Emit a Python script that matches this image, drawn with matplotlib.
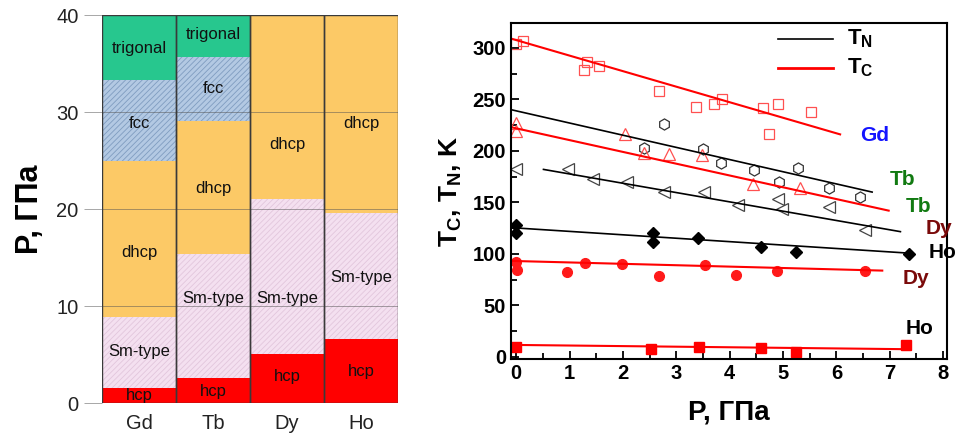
import numpy as np
import matplotlib.pyplot as plt

plt.rcParams['font.family'] = ['Liberation Sans', 'DejaVu Sans']
plt.rcParams['hatch.linewidth'] = 0.6

# ---- phase diagram (left) ----
elements = ["Gd", "Tb", "Dy", "Ho"]
phases = ["hcp", "Sm-type", "dhcp", "fcc", "trigonal"]
# upper pressure boundary of each phase, GPa (0 = phase absent)
bounds = {
    "Gd": [1.5, 8.9, 24.9, 33.3, 40],
    "Tb": [2.6, 15.4, 29.1, 35.7, 40],
    "Dy": [5.1, 21.0, 40, 0, 0],
    "Ho": [6.6, 19.6, 40, 0, 0],
}
label_y = {
    "Gd": [0.8, 5.3, 15.5, 28.8, 36.5],
    "Tb": [1.2, 10.8, 22.1, 32.4, 38.0],
    "Dy": [2.7, 10.8, 26.7, None, None],
    "Ho": [3.2, 12.9, 28.8, None, None],
}
phase_color = {"hcp": "#ff0000", "Sm-type": "#f4e0f0", "dhcp": "#fcc966",
               "fcc": "#b3c9e3", "trigonal": "#27c78e"}
phase_hatch = {"Sm-type": "//////", "fcc": "//////"}
hatch_color = {"Sm-type": "#e2c6dc", "fcc": "#7f9cc0"}

# ---- ordering temperatures (right) ----
gd_tc_p = [0.0, 0.13, 1.27, 1.32, 1.55, 2.68, 3.36, 3.7, 3.85, 4.62, 4.73, 4.9, 5.52]
gd_tc_t = [304, 307, 278, 286, 282, 258, 243, 245, 250, 242, 216, 245, 238]
tb_tn_p = [2.4, 2.77, 3.5, 3.83, 4.46, 4.93, 5.28, 5.86, 6.44]
tb_tn_t = [203, 226, 202, 188, 181, 170, 183, 164, 155]
tb_tc_p = [0.0, 0.0, 2.04, 2.4, 2.87, 3.49, 4.43, 5.31]
tb_tc_t = [227, 219, 216, 198, 197, 196, 168, 164]
dy_tn_p = [0.0, 0.97, 1.43, 2.08, 2.76, 3.51, 4.16, 4.91, 4.99, 5.86, 6.54]
dy_tn_t = [182, 182, 173, 170, 160, 160, 147, 153, 144, 146, 123]
ho_tn_p = [0.0, 0.0, 2.56, 2.56, 3.4, 4.59, 5.24, 7.37]
ho_tn_t = [128, 120, 120, 112, 115, 107, 102, 100]
dy_tc_p = [0.0, 0.02, 0.95, 1.29, 1.98, 2.68, 3.53, 4.12, 4.88, 6.54]
dy_tc_t = [92.5, 84.5, 82, 91, 90, 78.6, 89.3, 79.6, 83.5, 83.8]
ho_tc_p = [0.0, 2.52, 3.43, 4.59, 5.24, 7.3]
ho_tc_t = [10, 7.8, 9.7, 8.7, 5.2, 11.7]

# linear fits: (P start, P end), (T start, T end)
gd_fit = ([-0.1, 6.07], [309, 216])
tb_tn_fit = ([-0.1, 6.67], [240, 160])
tb_tc_fit = ([-0.1, 6.98], [223, 142])
dy_tn_fit = ([0.51, 7.2], [182, 121.6])
ho_tn_fit = ([-0.1, 7.37], [125.5, 100.7])
dy_tc_fit = ([-0.1, 6.86], [93.2, 83.8])
ho_tc_fit = ([-0.1, 7.36], [11.7, 7.5])

fig = plt.figure(figsize=(9.55, 4.34), dpi=100)

ax1 = fig.add_axes([0.1068, 0.0714, 0.310, 0.894])
for i, el in enumerate(elements):
    lo = 0
    for j, ph in enumerate(phases):
        hi = bounds[el][j]
        if hi <= 0:
            continue
        ax1.bar(i, hi - lo, bottom=lo, width=1, color=phase_color[ph],
                hatch=phase_hatch.get(ph), edgecolor=hatch_color.get(ph, "none"),
                linewidth=0, zorder=1)
        if label_y[el][j] is not None:
            ax1.text(i, label_y[el][j], ph, ha="center", va="center",
                     fontsize=12, color="#111111", zorder=4)
        lo = hi
    ax1.bar(i, 40, width=1, fill=False, edgecolor="#3a3a3a", linewidth=1.0, zorder=3)

for yv in [10, 20, 30, 40]:
    ax1.axhline(yv, color="#555555", linewidth=0.6, alpha=0.6, zorder=2)
ax1.set_xlim(-0.5, 3.5)
ax1.set_ylim(0, 40)
ax1.set_yticks([0, 10, 20, 30, 40])
ax1.set_xticks(range(4))
ax1.set_xticklabels(elements)
ax1.tick_params(axis="y", length=13, width=0.6, color="#999999", labelsize=14.5,
                labelcolor="#222222", pad=4)
ax1.tick_params(axis="x", length=0, labelsize=14.5, labelcolor="#222222", pad=8)
for s in ax1.spines.values():
    s.set_visible(False)
ax1.set_ylabel("P, ГПа", fontsize=22, fontweight="bold", labelpad=8)

ax2 = fig.add_axes([0.535, 0.1728, 0.457, 0.774])
ms = 7
ax2.plot(gd_tc_p, gd_tc_t, "s", mfc="none", mec="#ff5050", ms=ms, mew=0.9)
ax2.plot(tb_tn_p, tb_tn_t, "h", mfc="none", mec="#333333", ms=ms + 1, mew=0.9)
ax2.plot(tb_tc_p, tb_tc_t, "^", mfc="none", mec="#ff5050", ms=ms + 1, mew=0.9)
ax2.plot(dy_tn_p, dy_tn_t, "<", mfc="none", mec="#444444", ms=ms + 1, mew=0.9)
ax2.plot(ho_tn_p, ho_tn_t, "D", color="black", ms=6)
ax2.plot(dy_tc_p, dy_tc_t, "o", color="#ff1a1a", ms=ms)
ax2.plot(ho_tc_p, ho_tc_t, "s", color="#ff0000", ms=ms)

ax2.plot(*gd_fit, color="red", lw=1.5)
ax2.plot(*tb_tn_fit, color="black", lw=1.2)
ax2.plot(*tb_tc_fit, color="red", lw=1.5)
ax2.plot(*dy_tn_fit, color="black", lw=1.2)
ax2.plot(*ho_tn_fit, color="black", lw=1.2)
ax2.plot(*dy_tc_fit, color="red", lw=1.5)
ax2.plot(*ho_tc_fit, color="red", lw=1.5)

ax2.plot([4.9, 5.94], [309, 309], color="black", lw=1.2)
ax2.plot([4.9, 5.94], [280.5, 280.5], color="red", lw=2)
ax2.text(6.2, 309, "T$_\\mathregular{N}$", fontsize=16, fontweight="bold", va="center")
ax2.text(6.2, 280.5, "T$_\\mathregular{C}$", fontsize=16, fontweight="bold", va="center")

tag = dict(fontsize=15, fontweight="bold", va="center")
ax2.text(6.45, 215, "Gd", color="#1414ff", **tag)
ax2.text(7.0, 172, "Tb", color="#117a11", **tag)
ax2.text(7.3, 146, "Tb", color="#117a11", **tag)
ax2.text(7.67, 125, "Dy", color="#7a0a0a", **tag)
ax2.text(7.72, 101, "Ho", color="black", **tag)
ax2.text(7.25, 76, "Dy", color="#7a0a0a", **tag)
ax2.text(7.3, 28, "Ho", color="black", **tag)

ax2.set_xlim(-0.1, 8.08)
ax2.set_ylim(-2, 324)
ax2.set_xticks(range(9))
ax2.set_xticks(np.arange(0.5, 8, 1), minor=True)
ax2.set_yticks(range(0, 301, 50))
ax2.set_yticks(range(25, 301, 50), minor=True)
ax2.tick_params(which="both", direction="in", width=1.3)
ax2.tick_params(which="major", length=6, labelsize=14.5)
ax2.tick_params(which="minor", length=4)
for lab in ax2.get_xticklabels() + ax2.get_yticklabels():
    lab.set_fontweight("bold")
for s in ax2.spines.values():
    s.set_linewidth(1.5)
ax2.set_xlabel("P, ГПа", fontsize=20, fontweight="bold", labelpad=12)
ax2.set_ylabel("T$_\\mathregular{C}$, T$_\\mathregular{N}$, K", fontsize=19,
               fontweight="bold", labelpad=6)

fig.savefig("out.png", dpi=100)
